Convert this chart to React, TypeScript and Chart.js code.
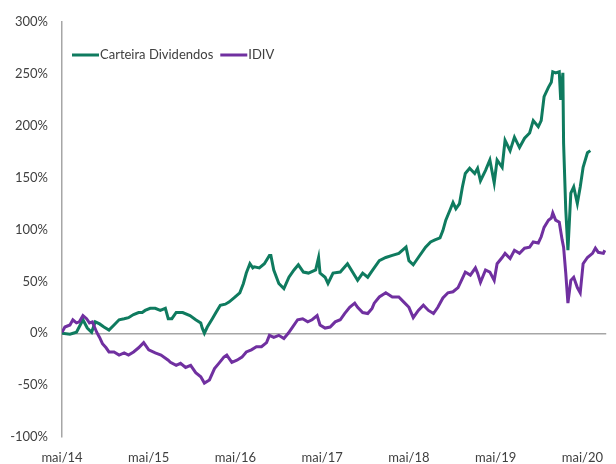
import React, { useEffect, useRef } from "react";
import { Chart, registerables } from "chart.js";

Chart.register(...registerables);

// Months since mai/14
const xTickLabels = ["mai/14", "mai/15", "mai/16", "mai/17", "mai/18", "mai/19", "mai/20"];
const yTicks = [-100, -50, 0, 50, 100, 150, 200, 250, 300];

const carteiraMonths = [
  0, 1.1, 2.0, 2.9, 3.5, 4.1, 4.6, 5.2, 5.8, 6.5, 7.2, 7.9, 8.6, 9.2, 9.9, 10.6, 11.1, 11.5, 12.2, 12.9,
  13.6, 14.3, 14.7, 15.2, 15.8, 16.7, 17.7, 18.5, 19.2, 19.4, 19.7, 20.1, 20.8, 21.3, 21.9, 22.6, 23.1, 23.8,
  24.6, 25.1, 25.5, 26.0, 26.4, 26.6, 27.3, 28.0, 28.7, 28.9, 29.3, 30.0, 30.7, 31.4, 32.1, 32.7, 33.4, 34.1,
  35.1, 35.5, 35.7, 36.4, 36.8, 37.5, 38.5, 39.5, 40.2, 40.9, 41.6, 42.3, 43.0, 43.9, 44.8, 45.7, 46.6, 47.6,
  48.0, 48.6, 49.3, 50.3, 51.0, 51.6, 52.3, 52.7, 53.1, 53.7, 54.1, 54.5, 55.0, 55.4, 55.8, 56.4, 57.1, 57.5,
  57.9, 58.6, 59.2, 59.8, 60.2, 60.9, 61.3, 62.0, 62.6, 63.3, 64.0, 64.7, 65.2, 65.9, 66.3, 66.7, 67.3, 67.7,
  67.9, 68.3, 68.8, 69.0, 69.3, 69.4, 69.7, 70.0, 70.4, 70.8, 71.3, 71.7, 72.1, 72.7, 73.1,
];
const carteiraValues = [
  0, -1, 1, 13, 5, 1, 11, 9, 6, 3, 8, 13, 14, 15, 18, 20, 20, 22, 24, 24,
  22, 24, 14, 14, 20, 20, 17, 13, 10, 5, 0, 6, 14, 20, 27, 28, 30, 34,
  39, 48, 58, 67, 63, 64, 63, 67, 75, 75, 61, 48, 43, 54, 61, 66, 59, 58,
  61, 73, 58, 54, 48, 58, 59, 67, 59, 51, 58, 54, 61, 70, 73, 75, 77, 83,
  70, 66, 73, 83, 88, 90, 92, 99, 109, 119, 126, 120, 125, 141, 154, 159, 154, 159,
  147, 157, 167, 145, 167, 160, 186, 176, 189, 179, 188, 193, 205, 199, 205, 228, 237, 242,
  252, 251, 252, 225, 251, 183, 119, 80, 135, 141, 125, 141, 160, 174, 176,
];

const idivMonths = [
  0, 0.4, 1.1, 1.5, 2.0, 2.4, 2.9, 3.4, 3.8, 4.2, 4.8, 5.2, 5.6, 6.1, 6.5, 7.2, 7.9, 8.6, 9.2, 9.9,
  10.6, 11.3, 12.0, 12.9, 13.7, 14.7, 15.0, 15.8, 16.4, 17.1, 17.8, 18.5, 19.2, 19.7, 20.4, 21.1, 21.7, 22.4,
  22.8, 23.5, 24.2, 24.9, 25.5, 26.2, 26.9, 27.6, 28.3, 28.7, 29.3, 30.0, 30.7, 31.3, 31.9, 32.6, 33.3, 34.0,
  34.6, 35.3, 35.7, 36.4, 37.1, 37.8, 38.5, 39.1, 39.8, 40.5, 40.9, 41.6, 42.3, 42.9, 43.2, 43.9, 44.8, 45.7,
  46.6, 47.3, 48.0, 48.6, 49.3, 50.0, 50.7, 51.4, 52.0, 52.7, 53.4, 54.1, 54.8, 55.4, 55.8, 56.5, 57.2, 57.5,
  57.9, 58.6, 59.2, 59.8, 60.2, 60.9, 61.3, 62.0, 62.6, 63.3, 64.0, 64.7, 65.2, 65.9, 66.3, 66.7, 67.3, 67.7,
  67.9, 68.3, 68.8, 69.2, 69.4, 69.7, 70.0, 70.4, 70.8, 71.3, 71.7, 72.1, 72.7, 73.4, 73.8, 74.2, 74.9, 75.1,
];
const idivValues = [
  1, 6, 8, 13, 10, 11, 17, 14, 10, 11, 1, -4, -10, -14, -18, -18, -21, -19, -21, -18,
  -14, -9, -16, -19, -21, -26, -28, -31, -29, -33, -31, -38, -42, -48, -45, -34, -29, -23,
  -21, -28, -26, -23, -18, -16, -13, -13, -9, -2, -4, -2, -5, 0, 6, 13, 14, 11,
  13, 17, 8, 5, 6, 11, 13, 19, 25, 29, 25, 20, 19, 24, 29, 35, 39, 35,
  35, 30, 25, 15, 22, 27, 22, 19, 25, 34, 39, 40, 44, 53, 59, 56, 63, 58,
  49, 61, 59, 51, 67, 73, 77, 72, 80, 77, 82, 83, 88, 87, 93, 102, 109, 111,
  116, 109, 107, 90, 83, 58, 29, 51, 54, 44, 39, 67, 73, 77, 82, 78, 77, 80,
];

const GREEN = "#0F7B5F";
const PURPLE = "#7030A0";
const TEXT = "#404040";
const FONT = "Lato, 'Noto Sans', sans-serif";

const legendItems = [
  { label: "Carteira Dividendos", color: GREEN },
  { label: "IDIV", color: PURPLE },
];

const legendPlugin = {
  id: "insideLegend",
  afterDraw(chart: any) {
    const ctx = chart.ctx;
    const area = chart.chartArea;
    ctx.save();
    ctx.font = `13px ${FONT}`;
    ctx.textBaseline = "middle";
    ctx.fillStyle = TEXT;
    let x = area.left + 10;
    const y = area.top + 33;
    legendItems.forEach((item) => {
      ctx.strokeStyle = item.color;
      ctx.lineWidth = 3;
      ctx.beginPath();
      ctx.moveTo(x, y);
      ctx.lineTo(x + 27, y);
      ctx.stroke();
      x += 28;
      ctx.fillStyle = TEXT;
      ctx.textAlign = "left";
      ctx.fillText(item.label, x, y);
      x += ctx.measureText(item.label).width + 7;
    });
    ctx.restore();
  },
};

export default function App() {
  const ref = useRef<HTMLCanvasElement | null>(null);

  useEffect(() => {
    if (!ref.current) return;
    const chart = new Chart(ref.current, {
      type: "line",
      data: {
        datasets: [
          {
            label: "Carteira Dividendos",
            data: carteiraMonths.map((m, i) => ({ x: m, y: carteiraValues[i] })),
            borderColor: GREEN,
            backgroundColor: GREEN,
            borderWidth: 3,
            pointRadius: 0,
            tension: 0,
            order: 1,
          },
          {
            label: "IDIV",
            data: idivMonths.map((m, i) => ({ x: m, y: idivValues[i] })),
            borderColor: PURPLE,
            backgroundColor: PURPLE,
            borderWidth: 3,
            pointRadius: 0,
            tension: 0,
            order: 0,
          },
        ],
      },
      options: {
        responsive: false,
        animation: false,
        layout: { padding: { top: 22, right: 0, left: 0, bottom: 0 } },
        plugins: {
          legend: { display: false },
          tooltip: { enabled: false },
        },
        scales: {
          x: {
            type: "linear",
            min: 0,
            max: 75.3,
            grid: { display: false, drawTicks: false },
            border: { display: false },
            afterBuildTicks: (scale: any) => {
              scale.ticks = xTickLabels.map((_, i) => ({ value: i * 12 }));
            },
            afterFit: (scale: any) => {
              scale.height = 27;
            },
            ticks: {
              autoSkip: false,
              maxRotation: 0,
              padding: 13,
              color: TEXT,
              font: { family: FONT, size: 13 },
              callback: (v: any) => xTickLabels[Math.round(Number(v) / 12)] ?? "",
            },
          },
          y: {
            min: -100,
            max: 300,
            afterBuildTicks: (scale: any) => {
              scale.ticks = yTicks.map((v) => ({ value: v }));
            },
            afterFit: (scale: any) => {
              scale.width = 62;
            },
            grid: {
              drawTicks: false,
              color: (c: any) => (c.tick && c.tick.value === 0 ? "#A6A6A6" : "rgba(0,0,0,0)"),
              lineWidth: 1.5,
            },
            border: { display: true, color: "#A6A6A6", width: 1.5 },
            ticks: {
              padding: 14,
              color: TEXT,
              font: { family: FONT, size: 13 },
              callback: (v: any) => `${v}%`,
            },
          },
        },
      },
      plugins: [legendPlugin],
    } as any);
    return () => chart.destroy();
  }, []);

  return (
    <div style={{ position: "fixed", left: 0, top: 0, width: 616, height: 464, background: "#fff" }}>
      <canvas ref={ref} width={616} height={464} />
    </div>
  );
}
